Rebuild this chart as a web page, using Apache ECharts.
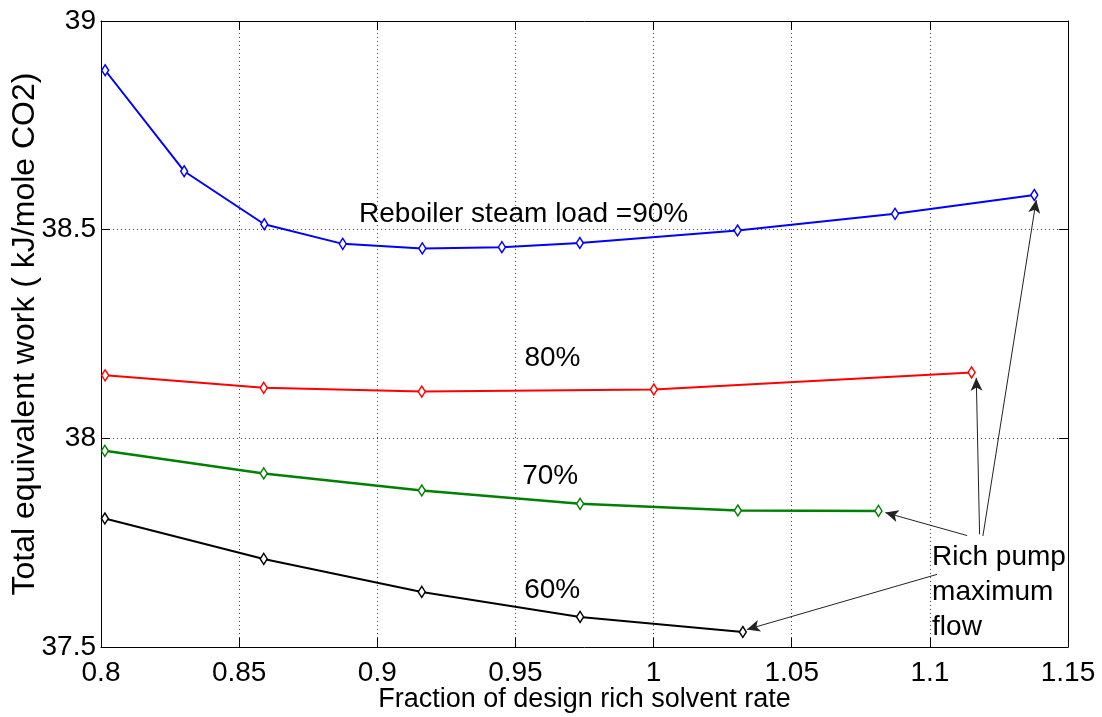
<!DOCTYPE html>
<html>
<head>
<meta charset="utf-8">
<script src="https://cdn.jsdelivr.net/npm/echarts@6/dist/echarts.min.js"></script>
<style>
  html, body { margin: 0; padding: 0; background: #fff; }
  #chart { width: 1102px; height: 717px; }
</style>
</head>
<body>
<div id="chart"></div>
<script>
// Axis ticks
const xTicks = [0.8, 0.85, 0.9, 0.95, 1, 1.05, 1.1, 1.15];
const xTickLabels = ['0.8', '0.85', '0.9', '0.95', '1', '1.05', '1.1', '1.15'];
const yTicks = [37.5, 38, 38.5, 39];
const yTickLabels = ['37.5', '38', '38.5', '39'];

// Reboiler steam load = 90 %
const load90X = [0.8015, 0.8301, 0.8591, 0.8875, 0.9163, 0.9451, 0.9733, 1.0304, 1.0874, 1.1378];
const load90Y = [38.882, 38.640, 38.513, 38.466, 38.455, 38.458, 38.468, 38.498, 38.538, 38.583];
// 80 %
const load80X = [0.8015, 0.8589, 0.9161, 1.0001, 1.1151];
const load80Y = [38.151, 38.121, 38.112, 38.117, 38.158];
// 70 %
const load70X = [0.8014, 0.8589, 0.9161, 0.9734, 1.0305, 1.0814];
const load70Y = [37.970, 37.916, 37.875, 37.843, 37.827, 37.826];
// 60 %
const load60X = [0.8014, 0.8589, 0.9161, 0.9734, 1.0323];
const load60Y = [37.808, 37.711, 37.632, 37.572, 37.536];

// Text annotations: position, text, alignment
const noteX = [0.8934, 0.9634, 0.9626, 0.9633, 1.1008];
const noteY = [38.536, 38.192, 37.909, 37.636, 37.632];
const noteText = ['Reboiler steam load =90%', '80%', '70%', '60%', 'Rich pump\nmaximum\nflow'];
const noteAlign = ['left', 'center', 'center', 'center', 'left'];

// "Rich pump maximum flow" arrows: start -> tip
const arrowFromX = [1.1135, 1.1026, 1.1180, 1.1192];
const arrowFromY = [37.767, 37.674, 37.770, 37.766];
const arrowToX = [1.0839, 1.0338, 1.1168, 1.1385];
const arrowToY = [37.822, 37.542, 38.145, 38.571];

const FONT = '"Liberation Sans", Arial, Helvetica, sans-serif';

function pairs(xs, ys) { return xs.map((x, i) => [x, ys[i]]); }

function curve(xs, ys, color, width) {
  return {
    type: 'line',
    data: pairs(xs, ys),
    symbol: 'diamond',
    symbolSize: [7, 11],
    showSymbol: true,
    z: 3,
    lineStyle: { color: color, width: width },
    itemStyle: { color: '#fff', borderColor: color, borderWidth: 1.5 },
    emphasis: { disabled: true },
    animation: false
  };
}

const xFmt = v => { const i = xTicks.findIndex(t => Math.abs(t - v) < 1e-6); return i >= 0 ? xTickLabels[i] : ''; };
const yFmt = v => { const i = yTicks.findIndex(t => Math.abs(t - v) < 1e-6); return i >= 0 ? yTickLabels[i] : ''; };

const tickFont = { fontFamily: FONT, fontSize: 28, color: '#000' };

const notes = {
  type: 'scatter',
  symbolSize: 0,
  silent: true,
  z: 5,
  animation: false,
  itemStyle: { opacity: 1, color: '#000' },
  data: noteX.map((x, i) => ({
    value: [x, noteY[i]],
    label: {
      show: true,
      position: noteAlign[i] === 'left' ? 'right' : 'inside',
      distance: 0,
      formatter: noteText[i],
      fontFamily: FONT,
      fontSize: 28,
      lineHeight: 35,
      color: '#000',
      opacity: 1,
      textBorderWidth: 0,
      align: noteAlign[i]
    }
  })),
  markLine: {
    silent: true,
    animation: false,
    symbol: ['none', 'arrow'],
    symbolSize: [9, 13],
    label: { show: false },
    lineStyle: { color: '#222', width: 1, type: 'solid', opacity: 1 },
    data: arrowFromX.map((x, i) => [
      { coord: [x, arrowFromY[i]] },
      { coord: [arrowToX[i], arrowToY[i]] }
    ])
  }
};

const chart = echarts.init(document.getElementById('chart'), null, { renderer: 'canvas' });
chart.setOption({
  backgroundColor: '#fff',
  animation: false,
  grid: { left: 101, right: 34, top: 21, bottom: 70, containLabel: false, outerBoundsMode: 'none' },
  xAxis: [{
    type: 'value', min: 0.8, max: 1.15, interval: 0.05, position: 'bottom',
    name: 'Fraction of design rich solvent rate',
    nameLocation: 'middle', nameGap: 38, nameMoveOverlap: false,
    nameTextStyle: { fontFamily: FONT, fontSize: 27, color: '#000', verticalAlign: 'top', lineHeight: 30 },
    axisLine: { show: true, onZero: false, lineStyle: { color: '#000', width: 1 } },
    axisTick: { show: true, inside: true, length: 9, lineStyle: { color: '#000' } },
    axisLabel: Object.assign({ formatter: xFmt, margin: 12 }, tickFont),
    splitLine: { show: true, lineStyle: { color: '#444', type: [1, 3], width: 1 } }
  }, {
    type: 'value', min: 0.8, max: 1.15, interval: 0.05, position: 'top',
    axisLine: { show: true, onZero: false, lineStyle: { color: '#000', width: 1 } },
    axisTick: { show: true, inside: true, length: 9, lineStyle: { color: '#000' } },
    axisLabel: { show: false },
    splitLine: { show: false }
  }],
  yAxis: [{
    type: 'value', min: 37.5, max: 39, interval: 0.5, position: 'left',
    name: 'Total equivalent work ( kJ/mole CO2)',
    nameLocation: 'middle', nameGap: 60, nameRotate: 90, nameMoveOverlap: false,
    nameTextStyle: { fontFamily: FONT, fontSize: 32, color: '#000' },
    axisLine: { show: true, onZero: false, lineStyle: { color: '#000', width: 1 } },
    axisTick: { show: true, inside: true, length: 9, lineStyle: { color: '#000' } },
    axisLabel: Object.assign({ formatter: yFmt, margin: 5 }, tickFont),
    splitLine: { show: true, lineStyle: { color: '#444', type: [1, 3], width: 1 } }
  }, {
    type: 'value', min: 37.5, max: 39, interval: 0.5, position: 'right',
    axisLine: { show: true, onZero: false, lineStyle: { color: '#000', width: 1 } },
    axisTick: { show: true, inside: true, length: 9, lineStyle: { color: '#000' } },
    axisLabel: { show: false },
    splitLine: { show: false }
  }],
  series: [
    curve(load90X, load90Y, '#0000ff', 2),
    curve(load80X, load80Y, '#ff0000', 2),
    curve(load70X, load70Y, '#008000', 2.5),
    curve(load60X, load60Y, '#000000', 2),
    notes
  ]
});
</script>
</body>
</html>
